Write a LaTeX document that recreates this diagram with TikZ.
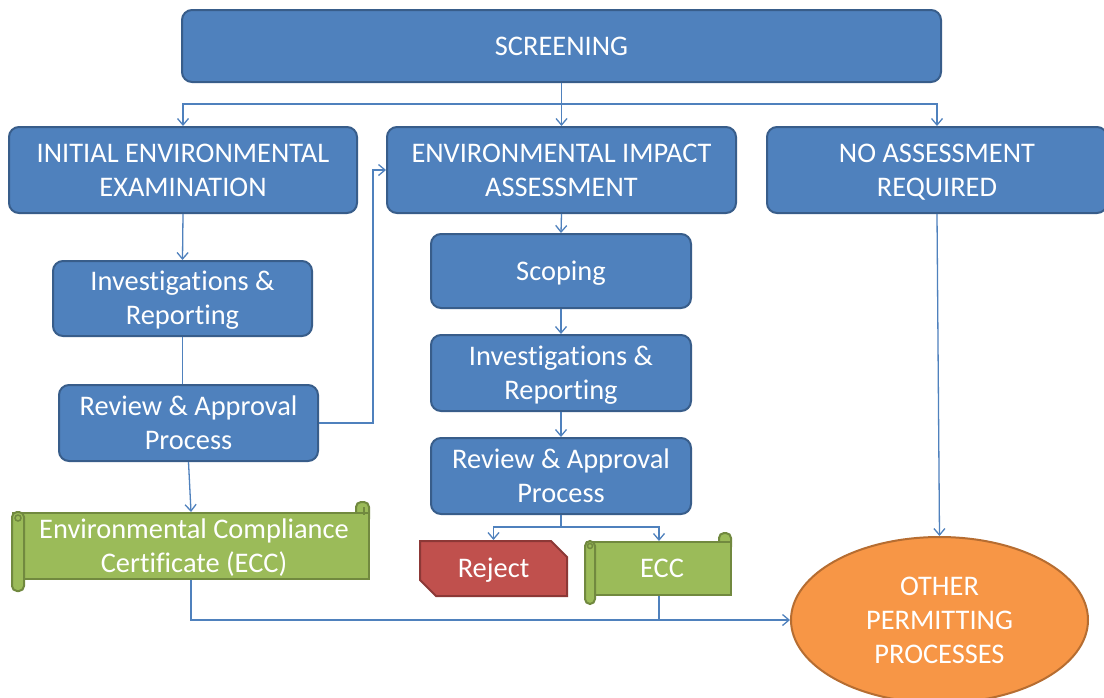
\documentclass[tikz,border=0pt]{standalone}
\usepackage{fontspec}
\setmainfont{Carlito}[Ligatures={NoCommon,NoRequired,NoContextual}]
\usetikzlibrary{shapes.misc,shapes.geometric,arrows.meta}
\definecolor{boxblue}{HTML}{4F81BD}
\definecolor{boxedge}{HTML}{385D8A}
\definecolor{lineblue}{HTML}{4F81BD}
\definecolor{eccgreen}{HTML}{9BBB59}
\definecolor{eccedge}{HTML}{71893F}
\definecolor{rejred}{HTML}{C0504D}
\definecolor{rejedge}{HTML}{8C3836}
\definecolor{othorange}{HTML}{F79646}
\definecolor{othedge}{HTML}{B66D31}
\newcommand\ts{\rule{0pt}{24.8pt}}
\newcommand\botstrutx{\rule[-6.5pt]{0pt}{6.5pt}}
\tikzset{
  txt/.style={text=white, align=center, font=\fontsize{28.4}{34}\selectfont, inner sep=0pt,
    execute at end node=\botstrutx},
  bluebox/.style={txt, draw=boxedge, line width=2pt, fill=boxblue, rounded corners=10pt},
  greenbody/.style={txt, draw=eccedge, line width=2pt, fill=eccgreen},
  rollpart/.style={draw=eccedge, line width=2pt, fill=eccgreen, rounded corners=5pt},
  rejbox/.style={txt, chamfered rectangle, chamfered rectangle corners={north east,south west}, chamfered rectangle xsep=8pt, chamfered rectangle ysep=8pt, draw=rejedge, line width=2pt, fill=rejred},
  othbox/.style={txt, ellipse, draw=othedge, line width=2pt, fill=othorange},
  conn/.style={draw=lineblue, line width=1.3pt},
  arr/.style={-{Straight Barb[length=6.5pt,width=11pt,line width=1.3pt]}}
}
\begin{document}
\begin{tikzpicture}[x=1pt,y=-1pt]
\useasboundingbox[fill=white] (0,0) rectangle (1104,697);

% top-level boxes
\node[bluebox, minimum width=759pt, minimum height=72pt] (scr) at (561.5,46) {\ts SCREENING};
\node[bluebox, minimum width=348pt, minimum height=86pt] (iee) at (183,170) {\ts INITIAL ENVIRONMENTAL\\EXAMINATION};
\node[bluebox, minimum width=349pt, minimum height=86pt] (eia) at (561.5,170) {\ts ENVIRONMENTAL IMPACT\\ASSESSMENT};
\node[bluebox, minimum width=340pt, minimum height=86pt] (nar) at (937,170) {\ts NO ASSESSMENT\\REQUIRED};

% left column
\node[bluebox, minimum width=259pt, minimum height=75pt] (inv1) at (182.5,298.5) {\ts Investigations \&\\Reporting};
\node[bluebox, minimum width=259pt, minimum height=76pt] (rev1) at (188.5,423) {\ts Review \& Approval\\Process};

% middle column
\node[bluebox, minimum width=260pt, minimum height=74pt] (scp) at (561,271) {\ts Scoping};
\node[bluebox, minimum width=260pt, minimum height=76pt] (inv2) at (561,373) {\ts Investigations \&\\Reporting};
\node[bluebox, minimum width=260pt, minimum height=76pt] (rev2) at (561,476) {\ts Review \& Approval\\Process};

% left ECC scroll
\draw[rollpart] (356,502) rectangle (369,524);
\node[greenbody, minimum width=356pt, minimum height=66pt] (ecc1) at (191,546) {\ts\hspace*{6pt}Environmental Compliance\\\hspace*{6pt}Certificate (ECC)};
\draw[rollpart] (ecc1.north west) rectangle ([shift={(12,11)}]ecc1.south west);
\draw[draw=eccedge, line width=1.5pt] ([shift={(6,6)}]ecc1.north west) circle (3pt);
\draw[draw=eccedge, line width=1.5pt] ([shift={(-6,-5)}]ecc1.north east) -- ([shift={(-6,3)}]ecc1.north east);

% reject and small ECC
\node[rejbox, minimum width=147pt, minimum height=55pt] (rej) at (493.5,568.5) {\ts Reject};
\draw[rollpart] (719,533) rectangle (731,552);
\node[greenbody, minimum width=144pt, minimum height=53pt] (ecc2) at (659,568.5) {\ts\hspace*{6pt}ECC};
\draw[rollpart] ([shift={(-1,0)}]ecc2.north west) rectangle ([shift={(9,8)}]ecc2.south west);
\draw[draw=eccedge, line width=1.5pt] ([shift={(4,5)}]ecc2.north west) circle (2.5pt);

% other permitting
\node[othbox, minimum width=297pt, minimum height=166pt] (oth) at (939.5,620) {\ts OTHER\\PERMITTING\\PROCESSES};

% connectors
\coordinate (bar) at (561.5,104);
\draw[conn] (scr.south) -- (bar);
\draw[conn,arr] (bar) -| (iee.north);
\draw[conn,arr] (bar) -- (eia.north);
\draw[conn,arr] (bar) -| (nar.north);

\draw[conn,arr] (iee.south) -- (inv1.north);
\draw[conn] (inv1.south) -- (rev1.north -| inv1.south);
\draw[conn,arr] (rev1.east) -- ++(54,0) |- (eia.west);
\draw[conn,arr] (rev1.south) -- (ecc1.north);
\draw[conn,arr] (ecc1.south) |- (oth.west);

\draw[conn,arr] (eia.south) -- (scp.north);
\draw[conn,arr] (scp.south) -- (inv2.north);
\draw[conn,arr] (inv2.south) -- (rev2.north);
\coordinate (bar2) at (561,527);
\draw[conn] (rev2.south) -- (bar2);
\draw[conn,arr] (bar2) -| (rej.north);
\draw[conn,arr] (bar2) -| (ecc2.north);
\draw[conn] (ecc2.south) -- (ecc2.south |- oth.west);

\draw[conn,arr] (nar.south) -- (oth.north);
\end{tikzpicture}
\end{document}
